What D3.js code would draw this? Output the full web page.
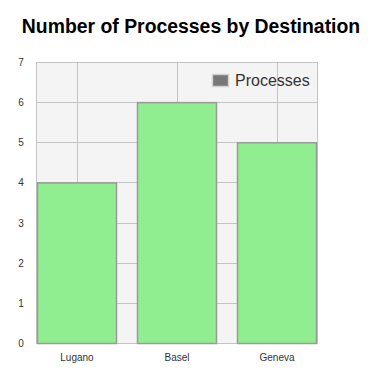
<!DOCTYPE html>
<html>
<head>
<meta charset="utf-8">
<script src="https://cdn.jsdelivr.net/npm/d3@7"></script>
<style>
  body { margin: 0; background: #fff; }
  text { font-family: Arial, "Liberation Sans", sans-serif; }
</style>
</head>
<body>
<div id="chart"></div>
<script>
// data
var categories = ["Lugano", "Basel", "Geneva"];
var processes = [4, 6, 5];
var yTicks = [0, 1, 2, 3, 4, 5, 6, 7];

var width = 372, height = 378;
var plot = {left: 36, right: 317, top: 62, bottom: 343};

var svg = d3.select("#chart")
  .append("svg")
  .attr("width", width)
  .attr("height", height);

var x = d3.scaleBand()
  .domain(categories)
  .range([27, 327])
  .paddingInner(0.2)
  .paddingOuter(0.1);

var y = d3.scaleLinear()
  .domain([0, 7])
  .range([plot.bottom, plot.top]);

// plot background
svg.append("rect")
  .attr("x", plot.left)
  .attr("y", plot.top)
  .attr("width", plot.right - plot.left)
  .attr("height", plot.bottom - plot.top)
  .attr("fill", "#f4f4f4");

// horizontal grid
svg.selectAll(".hgrid")
  .data(yTicks)
  .enter()
  .append("line")
    .attr("x1", plot.left)
    .attr("x2", plot.right)
    .attr("y1", function(d) { return Math.round(y(d)) + 0.5; })
    .attr("y2", function(d) { return Math.round(y(d)) + 0.5; })
    .attr("stroke", "#c4c4c4");

// vertical grid at category centres
svg.selectAll(".vgrid")
  .data(categories)
  .enter()
  .append("line")
    .attr("x1", function(d) { return Math.round(x(d) + x.bandwidth() / 2) + 0.5; })
    .attr("x2", function(d) { return Math.round(x(d) + x.bandwidth() / 2) + 0.5; })
    .attr("y1", plot.top)
    .attr("y2", plot.bottom)
    .attr("stroke", "#c4c4c4");

// border
svg.append("rect")
  .attr("x", plot.left + 0.5)
  .attr("y", plot.top + 0.5)
  .attr("width", plot.right - plot.left)
  .attr("height", plot.bottom - plot.top)
  .attr("fill", "none")
  .attr("stroke", "#c4c4c4");

// bars
svg.selectAll(".bar")
  .data(processes)
  .enter()
  .append("rect")
    .attr("x", function(d, i) { return x(categories[i]) + 0.5; })
    .attr("y", function(d) { return y(d) + 0.5; })
    .attr("width", x.bandwidth() - 1)
    .attr("height", function(d) { return y(0) - y(d); })
    .attr("fill", "#90ee90")
    .attr("stroke", "#9a9a9a")
    .attr("stroke-width", 1.5);

// y tick labels
svg.selectAll(".ylab")
  .data(yTicks)
  .enter()
  .append("text")
    .attr("x", 21)
    .attr("y", function(d) { return y(d) + 4; })
    .attr("text-anchor", "middle")
    .attr("font-size", 10)
    .attr("fill", "#333")
    .text(function(d) { return d; });

// x labels
svg.selectAll(".xlab")
  .data(categories)
  .enter()
  .append("text")
    .attr("x", function(d) { return x(d) + x.bandwidth() / 2; })
    .attr("y", 361)
    .attr("text-anchor", "middle")
    .attr("font-size", 10)
    .attr("fill", "#333")
    .text(function(d) { return d; });

// title
svg.append("text")
  .attr("x", 191)
  .attr("y", 33)
  .attr("text-anchor", "middle")
  .attr("font-size", 19.4)
  .attr("font-weight", "bold")
  .attr("fill", "#000")
  .text("Number of Processes by Destination");

// legend
svg.append("rect")
  .attr("x", 212.5)
  .attr("y", 74.5)
  .attr("width", 16)
  .attr("height", 12)
  .attr("fill", "#777")
  .attr("stroke", "#d0d0d0")
  .attr("stroke-width", 1.5);

svg.append("text")
  .attr("x", 235)
  .attr("y", 86)
  .attr("font-size", 16)
  .attr("fill", "#333")
  .text("Processes");
</script>
</body>
</html>
